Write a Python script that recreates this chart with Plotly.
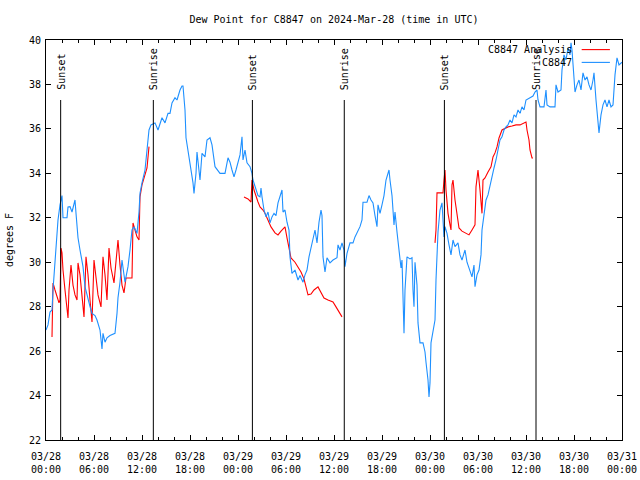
import pandas as pd
import plotly.graph_objects as go

BASE = pd.Timestamp("2024-03-28 00:00")

# Observed dew point (C8847): hours after 2024-03-28 00:00 UTC, degrees F
obs_hours = [0, 0.25, 0.5, 0.75, 0.875, 1.125, 1.375, 1.5, 1.75, 2.0, 2.125, 2.625, 2.75, 3.0, 3.25, 3.625, 3.75,
             4.0, 4.25, 4.625, 4.875, 5.25, 5.5, 5.75, 6.125, 6.375, 6.75, 7.0, 7.125, 7.375, 7.625, 8.0, 8.625,
             8.875, 9.0, 9.25, 9.5, 9.875, 10.25, 10.5, 10.75, 11.0, 11.375, 11.625, 11.75, 12.0, 12.375, 12.625,
             12.875, 13.125, 13.625, 14.0, 14.5, 14.875, 15.25, 15.5, 15.75, 16.125, 16.375, 16.75, 17.0, 17.125,
             17.25, 17.375, 17.5, 17.75, 18.0, 18.375, 18.5, 18.75, 18.875, 19.0, 19.25, 19.5, 19.875, 20.125,
             20.5, 20.75, 20.875, 21.125, 21.75, 22.375, 22.75, 23.0, 23.25, 23.5, 23.75, 24.0, 24.25, 24.5,
             24.625, 24.875, 25.125, 25.5, 25.75, 25.875, 26.125, 26.5, 26.75, 26.875, 27.0, 27.25, 27.5, 27.75,
             28.0, 28.25, 28.5, 28.75, 29.0, 29.25, 29.5, 29.625, 29.875, 30.125, 30.375, 30.5, 30.75, 31.125,
             31.5, 31.75, 32.125, 32.375, 32.625, 32.875, 33.125, 33.375, 33.625, 33.875, 34.125, 34.375, 34.5,
             34.625, 34.875, 35.125, 35.5, 35.875, 36.375, 36.5, 36.75, 37.0, 37.25, 37.375, 37.625, 38.0,
             38.375, 38.625, 39.0, 39.25, 39.5, 39.625, 40.125, 40.375, 40.625, 40.875, 41.125, 41.375, 41.5,
             41.75, 42.0, 42.25, 42.5, 42.75, 42.875, 43.0, 43.25, 43.5, 43.625, 43.875, 44.125, 44.375, 44.5,
             44.625, 44.75, 44.875, 45.125, 45.5, 45.75, 45.875, 46.0, 46.125, 46.375, 46.5, 46.75, 47.125,
             47.375, 47.5, 47.75, 47.875, 48.0, 48.125, 48.375, 48.625, 48.75, 48.875, 49.0, 49.25, 49.5, 49.625,
             49.75, 49.875, 50.125, 50.375, 50.625, 50.875, 51.125, 51.5, 51.75, 52.0, 52.375, 52.625, 52.875,
             53.25, 53.5, 53.625, 53.875, 54.125, 54.375, 54.5, 54.75, 55.0, 55.25, 55.5, 55.75, 56.0, 56.25,
             56.5, 56.75, 57.0, 57.25, 57.5, 57.75, 58.0, 58.25, 58.5, 58.75, 59.0, 59.25, 59.5, 59.75, 60.0,
             60.5, 60.875, 61.125, 61.375, 61.5, 61.75, 62.25, 62.5, 62.625, 63.0, 63.625, 63.75, 64.0, 64.375,
             64.5, 64.75, 65.0, 65.25, 65.5, 65.625, 65.75, 66.0, 66.125, 66.375, 66.625, 66.875, 67.125, 67.375,
             67.625, 67.875, 68.125, 68.375, 68.5, 68.75, 69.0, 69.125, 69.375, 69.625, 69.875, 70.125, 70.375,
             70.625, 70.875, 71.125, 71.375, 71.625, 72.0]
obs_values = [26.95, 27.18, 27.76, 27.85, 28.75, 29.97, 31.0, 31.9, 32.58, 33.0, 32.0, 32.0, 32.49, 32.5, 32.26,
              32.8, 32.2, 31.1, 30.55, 29.8, 28.9, 28.3, 28.0, 27.7, 27.6, 27.4, 26.95, 26.1, 26.8, 26.4, 26.6,
              26.7, 26.8, 27.7, 28.4, 29.1, 30.1, 29.1, 29.8, 30.55, 31.45, 31.6, 31.3, 32.26, 33.1, 33.57, 34.15,
              35.05, 35.95, 36.18, 36.27, 35.95, 36.5, 36.27, 36.7, 36.7, 37.17, 37.4, 37.3, 37.75, 37.93, 37.93,
              37.3, 36.85, 35.6, 35.05, 34.3, 33.57, 33.1, 34.0, 34.96, 34.6, 33.7, 34.9, 34.74, 35.5, 35.6, 35.28,
              34.96, 34.3, 34.0, 34.0, 34.7, 34.5, 34.15, 33.84, 34.15, 34.5, 34.83, 35.64, 34.6, 35.05, 34.47,
              34.3, 34.0, 33.7, 33.4, 33.0, 32.94, 33.34, 32.94, 32.35, 32.04, 32.26, 31.77, 32.04, 32.2, 32.1,
              32.67, 32.94, 33.25, 32.26, 32.35, 31.8, 31.45, 30.24, 29.5, 29.65, 29.2, 29.4, 29.1, 29.43, 29.65,
              30.24, 30.7, 31.14, 31.45, 30.87, 31.8, 32.35, 32.1, 30.24, 29.56, 30.2, 29.97, 30.1, 30.2, 30.78,
              30.55, 30.87, 30.55, 29.8, 30.4, 30.87, 30.87, 31.14, 31.45, 31.6, 31.9, 32.7, 32.7, 33.0, 32.8,
              32.67, 32.1, 31.6, 32.58, 32.2, 32.58, 33.0, 33.7, 34.0, 34.15, 33.7, 33.0, 31.68, 32.26, 31.36,
              30.55, 29.74, 30.1, 28.3, 26.8, 28.75, 30.24, 30.15, 30.2, 28.75, 28.0, 30.0, 28.97, 27.27, 26.37,
              26.37, 25.96, 25.5, 24.7, 23.94, 24.57, 26.37, 26.95, 27.4, 29.2, 30.33, 31.36, 32.35, 32.67, 31.9,
              31.14, 31.6, 31.3, 30.78, 30.33, 31.0, 30.7, 30.87, 30.33, 30.1, 30.55, 30.0, 29.74, 29.34, 29.87,
              28.9, 29.43, 29.65, 30.33, 31.45, 32.13, 32.8, 33.03, 33.48, 33.93, 34.24, 34.6, 35.05, 35.5, 35.64,
              35.95, 36.09, 36.18, 36.4, 36.27, 36.63, 36.54, 36.85, 36.7, 36.99, 36.85, 37.3, 37.4, 37.48, 37.66,
              37.75, 37.3, 36.99, 36.99, 37.75, 37.08, 36.99, 36.99, 37.98, 37.66, 37.75, 38.65, 39.33, 39.1,
              39.64, 39.33, 39.87, 39.55, 38.43, 37.66, 37.98, 38.2, 37.75, 38.52, 38.2, 38.34, 37.98, 37.75,
              38.2, 38.52, 37.3, 36.4, 35.82, 36.63, 37.08, 37.3, 36.99, 37.3, 36.99, 37.08, 38.43, 39.2, 38.88,
              39.0]

# Analysis dew point (C8847 Analysis): None marks gaps between segments
ana_hours = [0.75, 0.875, 1.125, 1.375, 1.625, 1.75, 1.875, 2.0, 2.125, 2.375, 2.625, 2.75, 2.875, 3.125, 3.375,
             3.625, 3.875, 4.0, 4.25, 4.5, 4.75, 5.0, 5.25, 5.5, 5.75, 6.0, 6.25, 6.5, 6.875, 7.125, 7.375, 7.625,
             7.875, 8.125, 8.5, 8.75, 9.0, 9.25, 9.5, 9.75, 10.0, 10.75, 10.875, 11.125, 11.375, 11.625, 11.75,
             12.0, 12.375, 12.625, 12.875,
             None,
             24.75, 25.25, 25.625, 25.75, 26.0, 26.25, 26.5, 26.75, 27.125, 27.375, 27.75, 28.125, 28.625, 29.0,
             29.375, 29.875, 30.125, 30.375, 30.625, 31.125, 31.5, 31.875, 32.25, 32.5, 32.75, 33.125, 33.5, 34.0,
             34.375, 34.75, 35.25, 35.875, 36.25, 36.625, 37.0,
             None,
             48.625, 48.75, 48.875, 49.25, 49.625, 49.75, 49.875, 50.0, 50.25, 50.5, 50.625, 50.75, 50.875,
             51.125, 51.375, 51.625, 52.0, 52.5, 52.875, 53.25, 53.625, 53.75, 54.0, 54.25, 54.5, 54.625, 54.875,
             55.25, 55.625, 55.875, 56.125, 56.375, 56.625, 57.0, 57.375, 57.75, 58.25, 58.75, 59.25, 59.75,
             60.0, 60.125, 60.375, 60.5, 60.75, 60.875]
ana_values = [26.64, 29.07, 28.75, 28.44, 28.17, 28.3, 30.64, 30.42, 29.65, 28.75, 27.85, 27.49, 28.75, 29.87,
              28.97, 28.53, 28.3, 29.97, 29.43, 28.3, 27.54, 30.24, 29.43, 28.3, 27.31, 30.1, 29.43, 28.53, 27.99,
              30.24, 29.43, 28.3, 30.64, 29.74, 29.07, 30.1, 31.0, 29.87, 28.97, 28.62, 29.29, 29.29, 31.77, 31.45,
              31.14, 31.0, 32.94, 33.48, 33.93, 34.24, 35.2,
              None,
              32.94, 32.85, 32.71, 33.7, 33.25, 32.94, 32.71, 32.49, 32.35, 32.2, 31.9, 31.59, 31.32, 31.23, 31.4,
              31.59, 31.1, 30.55, 30.19, 30.0, 29.79, 29.56, 29.25, 28.89, 28.53, 28.57, 28.75, 28.89, 28.62,
              28.39, 28.3, 28.21, 27.99, 27.76, 27.54,
              None,
              30.87, 31.45, 33.12, 33.12, 33.12, 33.7, 34.15, 33.25, 32.2, 31.68, 31.45, 33.48, 33.7, 32.8, 32.2,
              31.54, 31.4, 31.32, 31.23, 31.45, 31.68, 33.39, 34.15, 33.25, 32.2, 33.7, 33.79, 34.06, 34.29,
              34.74, 34.92, 35.19, 35.59, 35.95, 36.04, 36.09, 36.13, 36.18, 36.18, 36.27, 36.31, 35.95, 35.5,
              35.05, 34.69, 34.69]

# Sunrise / sunset events (UTC)
sun_times = ["2024-03-28 01:50", "2024-03-28 13:25", "2024-03-29 01:48",
             "2024-03-29 13:17", "2024-03-30 01:48", "2024-03-30 13:15"]
sun_labels = ["Sunset", "Sunrise", "Sunset", "Sunrise", "Sunset", "Sunrise"]

TITLE = "Dew Point for C8847 on 2024-Mar-28 (time in UTC)"
Y_TITLE = "degrees F"
SERIES_NAMES = ["C8847 Analysis", "C8847"]
X_RANGE = ["2024-03-28 00:00", "2024-03-31 00:00"]
Y_RANGE = [22, 40]

FONT = "DejaVu Sans Mono"
RED = "#ff0000"
BLUE = "#1e90ff"


def to_time(hours):
    return [None if h is None else BASE + pd.Timedelta(hours=h) for h in hours]


fig = go.Figure()
fig.add_trace(go.Scatter(x=to_time(ana_hours), y=ana_values, mode="lines", name=SERIES_NAMES[0],
                         line=dict(color=RED, width=1.1), connectgaps=False))
fig.add_trace(go.Scatter(x=to_time(obs_hours), y=obs_values, mode="lines", name=SERIES_NAMES[1],
                         line=dict(color=BLUE, width=1.1)))

for t, lab in zip(sun_times, sun_labels):
    fig.add_shape(type="line", xref="x", yref="paper", x0=t, x1=t, y0=0, y1=0.85,
                  line=dict(color="black", width=1))
    fig.add_annotation(x=t, xref="x", y=0.87, yref="paper", text=lab, textangle=-90,
                       showarrow=False, xanchor="center", yanchor="bottom",
                       font=dict(family=FONT, size=10, color="black"))

# gnuplot-style legend: label on the left, line sample on the right
legend_rows = [(SERIES_NAMES[0], RED, 0.976), (SERIES_NAMES[1], BLUE, 0.944)]
for name, col, yy in legend_rows:
    fig.add_annotation(x=0.916, y=yy, xref="paper", yref="paper", text=name, showarrow=False,
                       xanchor="right", yanchor="middle", font=dict(family=FONT, size=10, color="black"))
    fig.add_shape(type="line", xref="paper", yref="paper", x0=0.930, x1=0.979, y0=yy, y1=yy,
                  line=dict(color=col, width=1.1))

fig.update_layout(
    width=640, height=480,
    margin=dict(l=46, r=18, t=40, b=40, autoexpand=False),
    paper_bgcolor="white", plot_bgcolor="white",
    showlegend=False,
    font=dict(family=FONT, size=10, color="black"),
    title=dict(text=TITLE, x=0.5, xref="paper", xanchor="center", y=1 - 19 / 480, yref="container",
               yanchor="middle", font=dict(family=FONT, size=10, color="black")),
)
fig.update_xaxes(
    range=X_RANGE, type="date", dtick=6 * 3600 * 1000, tick0="2024-03-28 00:00",
    tickformat="%m/%d<br>%H:%M", ticks="inside", ticklen=5, tickcolor="black",
    minor=dict(dtick=2 * 3600 * 1000, ticks="inside", ticklen=3, tickcolor="black"),
    showline=True, linecolor="black", linewidth=1, mirror="ticks", showgrid=False, zeroline=False,
    tickfont=dict(family=FONT, size=10, color="black"), automargin=False, ticklabelstandoff=7,
)
fig.update_yaxes(
    range=Y_RANGE, dtick=2, ticks="inside", ticklen=5, tickcolor="black",
    showline=True, linecolor="black", linewidth=1, mirror="ticks", showgrid=False, zeroline=False,
    tickfont=dict(family=FONT, size=10, color="black"), automargin=False, ticklabelstandoff=2,
    title=dict(text=Y_TITLE, font=dict(family=FONT, size=10, color="black"), standoff=13),
)

# remove the browser's default 8 px body margin so the 640x480 figure fills the window exactly
fig.write_html("out.html", config={"displayModeBar": False},
               post_script="document.body.style.margin = '0px'; document.body.style.overflow = 'hidden';")
